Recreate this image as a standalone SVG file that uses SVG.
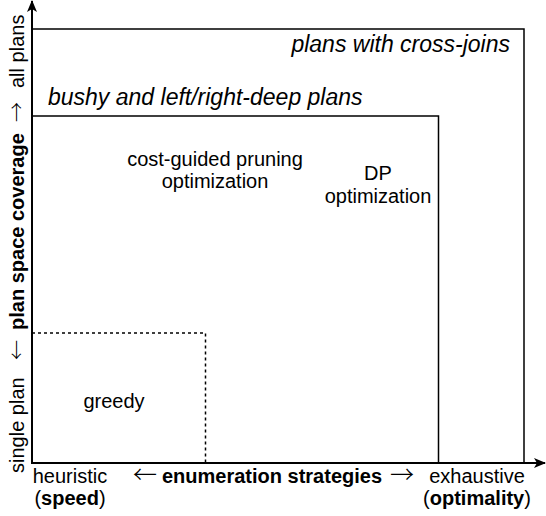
<svg xmlns="http://www.w3.org/2000/svg" width="546" height="516" viewBox="0 0 546 516">
  <defs>
    <style>
      text { font-family: "Liberation Sans", Arial, sans-serif; font-size: 20px; fill: #000; }
      .it { font-style: italic; font-size: 23px; }
      .b { font-weight: bold; }
      .mid { text-anchor: middle; }
      .arr { font-family: "Noto Sans CJK SC", "DejaVu Sans", sans-serif; font-size: 20px; font-weight: 300; text-anchor: middle; }
      .box { fill: none; stroke: #000; stroke-width: 1.5; }
      .dash { fill: none; stroke: #000; stroke-width: 1.5; stroke-dasharray: 3 3; }
      .axis { fill: none; stroke: #000; stroke-width: 2; }
    </style>
    <marker id="arrow" viewBox="0 0 12 10" refX="11" refY="5" markerWidth="12" markerHeight="10" markerUnits="userSpaceOnUse" orient="auto">
      <path d="M0,0 L12,5 L0,10 L3,5 Z" fill="#000"/>
    </marker>
  </defs>

  <rect width="546" height="516" fill="#fff"/>

  <!-- plan-space regions -->
  <g id="cross-joins">
    <path class="box" d="M32,29 H524 V463"/>
    <text class="it" x="510" y="52" text-anchor="end">plans with cross-joins</text>
  </g>
  <g id="bushy">
    <path class="box" d="M32,116 H438.5 V463"/>
    <text class="it" x="48" y="105">bushy and left/right-deep plans</text>
  </g>
  <g id="greedy">
    <path class="dash" d="M32,333 H205.5 V463"/>
    <text class="mid" x="114" y="408">greedy</text>
  </g>
  <g id="cost-guided">
    <text class="mid" x="215" y="166">cost-guided pruning</text>
    <text class="mid" x="215" y="188">optimization</text>
  </g>
  <g id="dp">
    <text class="mid" x="378" y="180">DP</text>
    <text class="mid" x="378" y="203">optimization</text>
  </g>

  <!-- axes -->
  <g id="connectors">
    <line class="axis" x1="32" y1="464" x2="32" y2="1" marker-end="url(#arrow)"/>
    <line class="axis" x1="31" y1="463" x2="545" y2="463" marker-end="url(#arrow)"/>
  </g>

  <!-- axis labels -->
  <g id="y-label" transform="rotate(-90)">
    <text x="-473" y="24">single plan</text>
    <text class="arr" x="-350" y="24">←</text>
    <text x="-330" y="24" class="b">plan space coverage</text>
    <text class="arr" x="-112" y="24">→</text>
    <text x="-88" y="24">all plans</text>
  </g>
  <g id="x-label">
    <text class="mid" x="70" y="483">heuristic</text>
    <text class="mid" x="70" y="505">(<tspan class="b">speed</tspan>)</text>
    <text class="arr" x="145" y="483" style="font-size:24px">←</text>
    <text class="mid b" x="272" y="483">enumeration strategies</text>
    <text class="arr" x="402" y="483" style="font-size:24px">→</text>
    <text class="mid" x="477" y="483">exhaustive</text>
    <text class="mid" x="477" y="505">(<tspan class="b">optimality</tspan>)</text>
  </g>
</svg>
